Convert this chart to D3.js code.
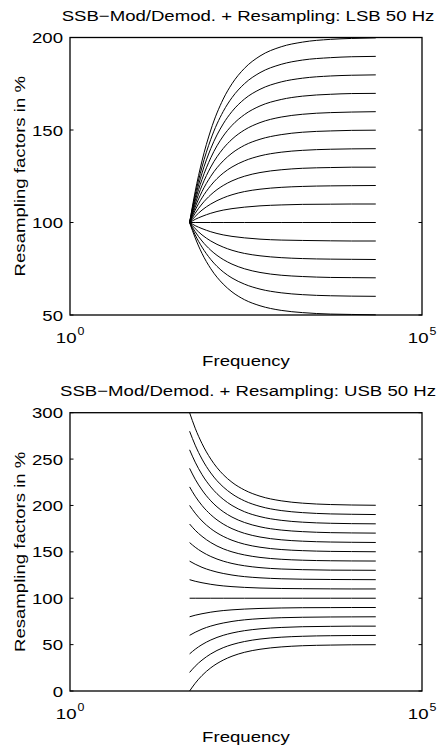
<!DOCTYPE html>
<html>
<head>
<meta charset="utf-8">
<script src="https://cdn.jsdelivr.net/npm/d3@7"></script>
<style>
  body { margin: 0; background: #fff; }
  svg { display: block; }
  text { font-family: "Liberation Sans", Arial, sans-serif; fill: #000; }
</style>
</head>
<body>
<div id="chart"></div>
<script>
var freqs = [50, 60, 75, 100, 150, 200, 300, 500, 1000, 2000, 5000, 10000, 22050];

// LSB 50 Hz: resampling factor in % per curve (top plot)
var lsbCurves = [
    [100, 116.7, 133.3, 150, 166.7, 175, 183.3, 190, 195, 197.5, 199, 199.5, 199.8],
    [100, 115, 130, 145, 160, 167.5, 175, 181, 185.5, 187.8, 189.1, 189.6, 189.8],
    [100, 113.3, 126.7, 140, 153.3, 160, 166.7, 172, 176, 178, 179.2, 179.6, 179.8],
    [100, 111.7, 123.3, 135, 146.7, 152.5, 158.3, 163, 166.5, 168.3, 169.3, 169.7, 169.8],
    [100, 110, 120, 130, 140, 145, 150, 154, 157, 158.5, 159.4, 159.7, 159.9],
    [100, 108.3, 116.7, 125, 133.3, 137.5, 141.7, 145, 147.5, 148.8, 149.5, 149.8, 149.9],
    [100, 106.7, 113.3, 120, 126.7, 130, 133.3, 136, 138, 139, 139.6, 139.8, 139.9],
    [100, 105, 110, 115, 120, 122.5, 125, 127, 128.5, 129.3, 129.7, 129.9, 129.9],
    [100, 103.3, 106.7, 110, 113.3, 115, 116.7, 118, 119, 119.5, 119.8, 119.9, 120],
    [100, 101.7, 103.3, 105, 106.7, 107.5, 108.3, 109, 109.5, 109.8, 109.9, 110, 110],
    [100, 100, 100, 100, 100, 100, 100, 100, 100, 100, 100, 100, 100],
    [100, 98.3, 96.7, 95, 93.3, 92.5, 91.7, 91, 90.5, 90.3, 90.1, 90, 90],
    [100, 96.7, 93.3, 90, 86.7, 85, 83.3, 82, 81, 80.5, 80.2, 80.1, 80],
    [100, 95, 90, 85, 80, 77.5, 75, 73, 71.5, 70.8, 70.3, 70.2, 70.1],
    [100, 93.3, 86.7, 80, 73.3, 70, 66.7, 64, 62, 61, 60.4, 60.2, 60.1],
    [100, 91.7, 83.3, 75, 66.7, 62.5, 58.3, 55, 52.5, 51.3, 50.5, 50.3, 50.1]
];

// USB 50 Hz (bottom plot)
var usbCurves = [
    [300, 283.3, 266.7, 250, 233.3, 225, 216.7, 210, 205, 202.5, 201, 200.5, 200.2],
    [280, 265, 250, 235, 220, 212.5, 205, 199, 194.5, 192.3, 190.9, 190.5, 190.2],
    [260, 246.7, 233.3, 220, 206.7, 200, 193.3, 188, 184, 182, 180.8, 180.4, 180.2],
    [240, 228.3, 216.7, 205, 193.3, 187.5, 181.7, 177, 173.5, 171.8, 170.7, 170.4, 170.2],
    [220, 210, 200, 190, 180, 175, 170, 166, 163, 161.5, 160.6, 160.3, 160.1],
    [200, 191.7, 183.3, 175, 166.7, 162.5, 158.3, 155, 152.5, 151.3, 150.5, 150.3, 150.1],
    [180, 173.3, 166.7, 160, 153.3, 150, 146.7, 144, 142, 141, 140.4, 140.2, 140.1],
    [160, 155, 150, 145, 140, 137.5, 135, 133, 131.5, 130.8, 130.3, 130.2, 130.1],
    [140, 136.7, 133.3, 130, 126.7, 125, 123.3, 122, 121, 120.5, 120.2, 120.1, 120],
    [120, 118.3, 116.7, 115, 113.3, 112.5, 111.7, 111, 110.5, 110.3, 110.1, 110, 110],
    [100, 100, 100, 100, 100, 100, 100, 100, 100, 100, 100, 100, 100],
    [80, 81.7, 83.3, 85, 86.7, 87.5, 88.3, 89, 89.5, 89.8, 89.9, 90, 90],
    [60, 63.3, 66.7, 70, 73.3, 75, 76.7, 78, 79, 79.5, 79.8, 79.9, 80],
    [40, 45, 50, 55, 60, 62.5, 65, 67, 68.5, 69.3, 69.7, 69.9, 69.9],
    [20, 26.7, 33.3, 40, 46.7, 50, 53.3, 56, 58, 59, 59.6, 59.8, 59.9],
    [0, 8.3, 16.7, 25, 33.3, 37.5, 41.7, 45, 47.5, 48.8, 49.5, 49.8, 49.9]
];

var xTicks = [1, 100000];
var lsbYTicks = [50, 100, 150, 200];
var usbYTicks = [0, 50, 100, 150, 200, 250, 300];
var titles = ["SSB\u2212Mod/Demod. + Resampling: LSB 50 Hz",
              "SSB\u2212Mod/Demod. + Resampling: USB 50 Hz"];
var xLabel = "Frequency";
var yLabel = "Resampling factors in %";

var W = 440, H = 747;
var left = 70, right = 422;
var fs = 15, sx = 1.24;   // text looks stretched sideways in the original

var svg = d3.select("#chart").append("svg")
    .attr("width", W)
    .attr("height", H);

function label(g, x, y, str, anchor, size) {
    return g.append("text")
        .attr("transform", "translate(" + x + "," + y + ") scale(" + sx + ",1)")
        .attr("text-anchor", anchor)
        .attr("font-size", size)
        .text(str);
}

function drawPlot(top, bottom, yDomain, yTicks, curves, title) {
    var g = svg.append("g");
    var x = d3.scaleLog().domain([1, 100000]).range([left, right]);
    var y = d3.scaleLinear().domain(yDomain).range([bottom, top]);

    var line = d3.line()
        .x(function(d, i) { return x(freqs[i]); })
        .y(function(d) { return y(d); })
        .curve(d3.curveMonotoneX);

    g.selectAll(".curve")
        .data(curves)
        .enter()
        .append("path")
        .attr("class", "curve")
        .attr("d", line)
        .attr("fill", "none")
        .attr("stroke", "#000")
        .attr("stroke-width", 1);

    // box
    g.append("rect")
        .attr("x", left)
        .attr("y", top)
        .attr("width", right - left)
        .attr("height", bottom - top)
        .attr("fill", "none")
        .attr("stroke", "#000")
        .attr("stroke-width", 1.3);

    // y ticks inside, both sides
    var tl = 3.5;
    yTicks.forEach(function(t) {
        var yy = y(t);
        g.append("line").attr("x1", left).attr("x2", left + tl)
            .attr("y1", yy).attr("y2", yy).attr("stroke", "#000");
        g.append("line").attr("x1", right).attr("x2", right - tl)
            .attr("y1", yy).attr("y2", yy).attr("stroke", "#000");
        label(g, left - 7, yy + 5.5, t, "end", fs);
    });

    // x tick labels 10^n, whole label centred on the tick
    xTicks.forEach(function(t) {
        var xx = x(t);
        var e = Math.round(Math.log10(t));
        label(g, xx + 6.5, bottom + 28, "10", "end", fs);
        label(g, xx + 7.5, bottom + 19.5, e, "start", 10);
    });

    label(g, (left + right) / 2, bottom + 51, xLabel, "middle", fs);
    label(g, 248, top - 16.5, title, "middle", fs);

    g.append("text")
        .attr("transform", "translate(25," + ((top + bottom) / 2) + ") rotate(-90) scale(" + sx + ",1)")
        .attr("text-anchor", "middle")
        .attr("font-size", fs)
        .text(yLabel);
}

drawPlot(37.5, 315, [50, 200], lsbYTicks, lsbCurves, titles[0]);
drawPlot(412.7, 691, [0, 300], usbYTicks, usbCurves, titles[1]);
</script>
</body>
</html>
